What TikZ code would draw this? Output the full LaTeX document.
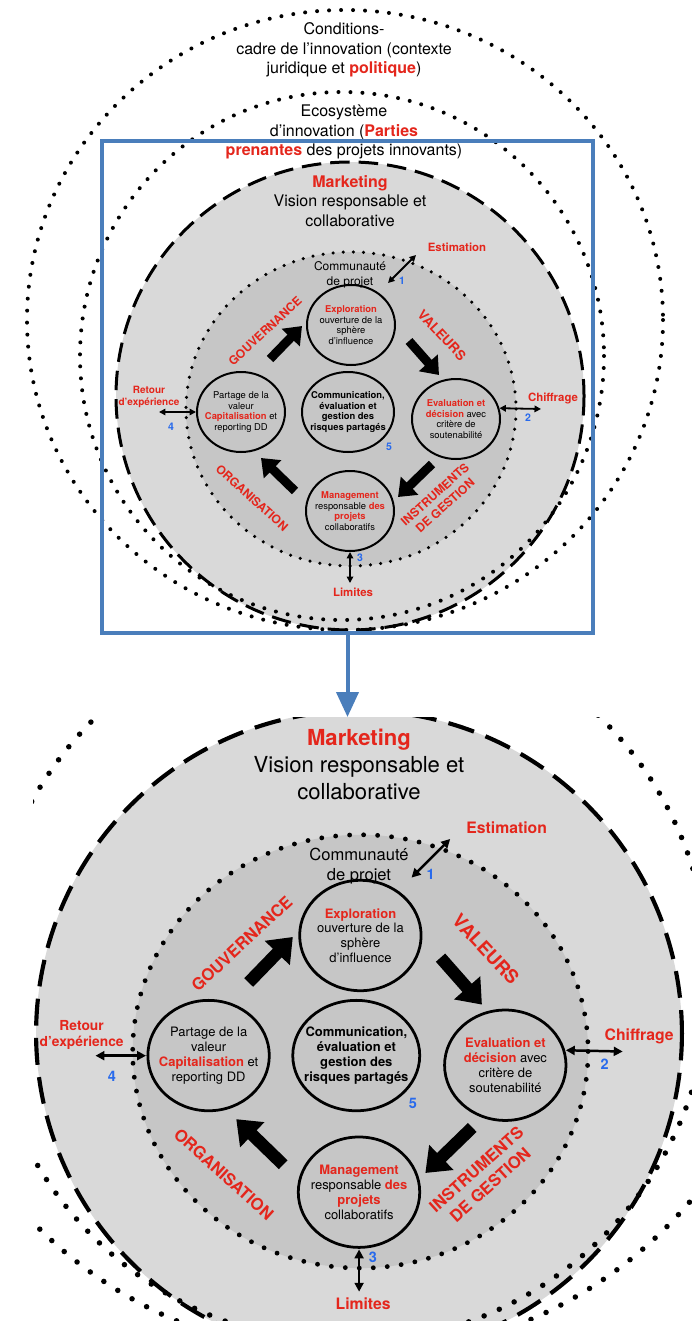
\documentclass[tikz,border=0pt]{standalone}
\usepackage{fontspec}
\setmainfont{TeX Gyre Heros}
\usetikzlibrary{arrows.meta,shapes.geometric}

\definecolor{accent}{RGB}{228,38,28}
\definecolor{numblue}{RGB}{40,106,236}
\definecolor{frameblue}{RGB}{74,126,187}

\newcommand{\zf}{1}
\newcommand{\rb}[1]{\textcolor{accent}{\textbf{#1}}}

\tikzset{
    dotring/.style = {
        draw = black,
        line width = \zf*4pt,
        line cap = round,
        dash pattern = on 0pt off 3\pgflinewidth
    },
    outerdisk/.style = {
        fill = gray!30,
        draw = black,
        line width = \zf*3pt,
        dash pattern = on 6.5\pgflinewidth off 3\pgflinewidth
    },
    innerdisk/.style = {
        fill = gray!45,
        draw = black,
        line width = \zf*3.5pt,
        line cap = round,
        dash pattern = on 0pt off 2.9\pgflinewidth
    },
    ringcell/.style = {
        ellipse,
        draw = black,
        line width = \zf*2pt,
        minimum width = 88pt,
        minimum height = 80pt,
        inner sep = 0pt
    },
    celltext/.style = {align = center, font = \fontsize{9.4}{10.7}\selectfont},
    bigtext/.style = {align = center, font = \fontsize{16}{19.5}\selectfont},
    commtext/.style = {align = center, font = \fontsize{12}{14.5}\selectfont},
    axislabel/.style = {text = accent, align = center, font = \fontsize{12}{15}\selectfont\bfseries},
    sidetag/.style = {text = accent, align = center, font = \fontsize{11.4}{12.5}\selectfont\bfseries},
    stepnum/.style = {text = numblue, font = \fontsize{10.5}{12}\selectfont\bfseries},
    bigarrow/.style = {
        draw = black,
        line width = \zf*9pt,
        -{Triangle[length = 0pt 1.8, width = 0pt 2.7]}
    },
    dblarrow/.style = {
        draw = black,
        line width = \zf*1.8pt,
        {Triangle[length = 0pt 3.6, width = 0pt 3.6]}-{Triangle[length = 0pt 3.6, width = 0pt 3.6]}
    },
    zoomframe/.style = {
        draw = frameblue,
        line width = 3.5pt,
        minimum width = 491pt,
        minimum height = 492pt
    },
    zoomarrow/.style = {
        draw = frameblue,
        line width = 4pt,
        -{Triangle[length = 25pt, width = 22pt]}
    }
}

\newcommand{\innovview}{%
    \draw[outerdisk] (350,396) circle (234);
    \draw[innerdisk] (351,409) ellipse (165 and 157);
    \draw[dotring] (345,320) ellipse (318 and 310);
    \draw[dotring] (342,356) ellipse (262 and 264);
    \node[bigtext] (market) at (350,201) {\rb{Marketing}\\Vision responsable et\\collaborative};
    \node[commtext] (commu) at (350,275) {Communauté\\de projet};
    \node[ringcell] (explor) at (351,325) {};
    \node[ringcell] (partage) at (241,412) {};
    \node[ringcell, minimum width = 92pt] (commun) at (348,412) {};
    \node[ringcell] (eval) at (456,419) {};
    \node[ringcell] (manag) at (350,511) {};
    \node[celltext] (explortxt) at (explor) {\rb{Exploration}\\ouverture de la\\sphère\\d’influence};
    \node[celltext] (partagetxt) at (partage) {Partage de la\\valeur\\\rb{Capitalisation} et\\reporting DD};
    \node[celltext, font = \fontsize{9.4}{10.7}\selectfont\bfseries] (communtxt) at (commun) {Communication,\\évaluation et\\gestion des\\risques partagés};
    \node[celltext] (evaltxt) at (eval) {\rb{Evaluation et}\\\rb{décision} avec\\critère de\\soutenabilité};
    \node[celltext] (managtxt) at (manag) {\rb{Management}\\responsable \rb{des}\\\rb{projets}\\collaboratifs};
    \node[axislabel, rotate = 43] (gouv) at (265,331) {GOUVERNANCE};
    \node[axislabel, rotate = -47, font = \fontsize{13.5}{15}\selectfont\bfseries] (valeurs) at (442,335) {VALEURS};
    \node[axislabel, rotate = -42] (organ) at (252,498) {ORGANISATION};
    \node[axislabel, rotate = 42] (instr) at (440,500) {INSTRUMENTS\\DE GESTION};
    \coordinate (gouvtail) at (270,359);
    \coordinate (gouvtip) at (302,326);
    \coordinate (valtail) at (409,341);
    \coordinate (valtip) at (439,375);
    \coordinate (insttail) at (432,464);
    \coordinate (insttip) at (398,497);
    \coordinate (orgtail) at (295,491);
    \coordinate (orgtip) at (261,458);
    \draw[bigarrow] (gouvtail) -- (gouvtip);
    \draw[bigarrow] (valtail) -- (valtip);
    \draw[bigarrow] (insttail) -- (insttip);
    \draw[bigarrow] (orgtail) -- (orgtip);
    \node[sidetag] (estim) at (457,247) {Estimation};
    \node[sidetag] (chiffr) at (553,398) {Chiffrage};
    \node[sidetag] (limit) at (353,592) {Limites};
    \node[sidetag, font = \fontsize{10}{12}\selectfont\bfseries] (retour) at (149,397) {Retour\\d’expérience};
    \coordinate (estimlow) at (388,283);
    \coordinate (estimhigh) at (416,255);
    \coordinate (chiffrend) at (541,409);
    \coordinate (limitend) at (350,583);
    \coordinate (retourend) at (159,412);
    \draw[dblarrow] (estimlow) -- (estimhigh);
    \draw[dblarrow] (eval.14) -- (chiffrend);
    \draw[dblarrow] (manag.south) -- (limitend);
    \draw[dblarrow] (partage.west) -- (retourend);
    \node[stepnum] (num1) at (402,281) {1};
    \node[stepnum] (num2) at (528,418) {2};
    \node[stepnum] (num3) at (360,558) {3};
    \node[stepnum] (num4) at (171,427) {4};
    \node[stepnum] (num5) at (389,447) {5};
}

\begin{document}
\begin{tikzpicture}[x = 1pt, y = -1pt]
    \fill[white] (0,0) rectangle (692,1321);
    \useasboundingbox (0,0) rectangle (692,1321);
    \begin{scope}[name prefix = top-]
        \innovview
        \node[bigtext] (cond) at (344,50) {Conditions-\\cadre de l’innovation (contexte\\juridique et \rb{politique})};
        \node[bigtext] (eco) at (344,132) {Ecosystème\\d’innovation (\rb{Parties}\\\rb{prenantes} des projets innovants)};
    \end{scope}
    \node[zoomframe] (frame) at (347.5,387) {};
    \coordinate (zoomtip) at (347.5,717);
    \draw[zoomarrow] (frame.south) -- (zoomtip);
    \begin{scope}
        \clip (33,717) rectangle (692,1321);
        \begin{scope}[name prefix = zoom-, shift = {(-124,487)}, scale = 1.38, transform shape]
            \def\zf{1.38}
            \innovview
        \end{scope}
    \end{scope}
\end{tikzpicture}
\end{document}
